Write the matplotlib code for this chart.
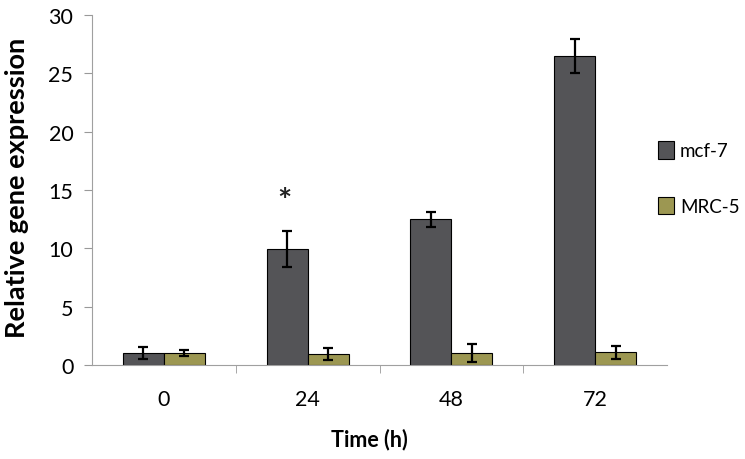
import matplotlib
matplotlib.use("Agg")
import matplotlib.pyplot as plt
import numpy as np

plt.rcParams["font.family"] = ["Lato", "DejaVu Sans"]

# ── data ─────────────────────────────────────────────────────────────────────
times = ["0", "24", "48", "72"]
mcf7 = [1.03, 9.94, 12.5, 26.5]
mcf7_err = [0.5, 1.55, 0.65, 1.45]
mrc5 = [1.03, 0.95, 1.03, 1.09]
mrc5_err = [0.22, 0.55, 0.77, 0.57]

C_MCF = "#545457"
C_MRC = "#9c9752"

fig = plt.figure(figsize=(7.45, 4.6), dpi=100)
ax = fig.add_axes([92 / 745, 1 - 366 / 460, 575 / 745, 350 / 460])

x = np.arange(len(times))
w = 0.285
err_kw = dict(ecolor="black", elinewidth=1.6, capsize=3.5, capthick=1.6)
ax.bar(x - w / 2, mcf7, w, yerr=mcf7_err, color=C_MCF, edgecolor="black",
       linewidth=0.8, error_kw=err_kw, label="mcf-7")
ax.bar(x + w / 2, mrc5, w, yerr=mrc5_err, color=C_MRC, edgecolor="black",
       linewidth=0.8, error_kw=err_kw, label="MRC-5")

# significance marker above the 24 h mcf-7 bar
ax.text(x[1] - w / 2 - 0.02, 14.0, "*", ha="center", va="center",
        fontsize=24, fontweight="bold", color="#222222")

ax.set_xlim(-0.5, 3.5)
ax.set_ylim(0, 30)
ax.set_yticks(range(0, 31, 5))
ax.set_xticks(x)
ax.set_xticklabels(times)
ax.set_xticks(x[:-1] + 0.5, minor=True)
ax.tick_params(axis="x", which="major", length=0, pad=17, labelsize=15.5)
ax.tick_params(axis="x", which="minor", length=6, color="#999999")
ax.tick_params(axis="y", length=5.5, color="#999999", labelsize=15.5, pad=8)

for s in ("top", "right"):
    ax.spines[s].set_visible(False)
for s in ("left", "bottom"):
    ax.spines[s].set_color("#a0a0a0")

ax.set_xlabel("Time (h)", fontsize=15.5, fontweight="bold", va="center")
ax.xaxis.set_label_coords((369 - 92) / 575, -(440 - 366) / 350)
ax.set_ylabel("Relative gene expression", fontsize=19.5, fontweight="bold",
              va="center")
ax.yaxis.set_label_coords(-(92 - 17) / 575, 0.51)

ax.legend(loc="center left", bbox_to_anchor=(649 / 745, 1 - 179 / 460),
          bbox_transform=fig.transFigure, frameon=False, borderpad=0,
          fontsize=13.5, handlelength=0.85, handleheight=1.05,
          labelspacing=2.0, handletextpad=0.3)

fig.savefig("out.png", dpi=100)
